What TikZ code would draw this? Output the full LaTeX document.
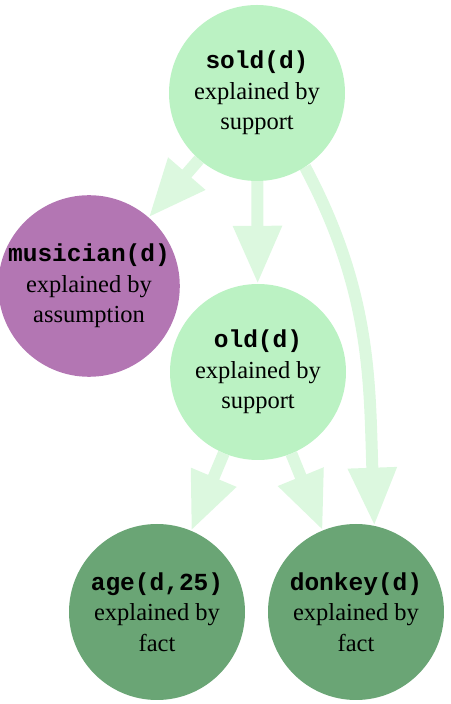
\documentclass[tikz,border=0pt]{standalone}
\usepackage{fontspec}
\setmainfont{Liberation Serif}
\setmonofont{Liberation Mono}
\usetikzlibrary{arrows.meta,backgrounds}
\definecolor{supportgreen}{HTML}{BBF2C3}
\definecolor{assumpurple}{HTML}{B376B3}
\definecolor{factgreen}{HTML}{6AA575}
\definecolor{arrowgreen}{HTML}{DCF8DF}
\tikzset{
  expl/.style={circle, minimum size=176pt, inner sep=0pt, align=center,
    font=\fontsize{24.5}{30.5}\selectfont, text=black},
  support/.style={expl, fill=supportgreen},
  assume/.style={expl, fill=assumpurple},
  fact/.style={expl, fill=factgreen},
  arr/.style={draw=arrowgreen, line width=12pt,
    -{Triangle[width=46pt,length=58pt,fill=arrowgreen]}}
}
\begin{document}
\begin{tikzpicture}[x=1pt,y=1pt]
\useasboundingbox (0,0) rectangle (450,704);
\node[support] (sold) at (257,611) {\textbf{\texttt{sold(d)}}\\explained by\\support};
\node[assume] (musician) at (89,418) {\textbf{\texttt{musician(d)}}\\explained by\\assumption};
\node[support] (old) at (258,332) {\textbf{\texttt{old(d)}}\\explained by\\support};
\node[fact] (age) at (157,92) {\textbf{\texttt{age(d,25)}}\\explained by\\fact};
\node[fact] (donkey) at (356,92) {\textbf{\texttt{donkey(d)}}\\explained by\\fact};
\begin{pgfonlayer}{background}
\draw[arr] (sold) -- (musician);
\draw[arr] (sold) -- (old);
\draw[arr] (sold.-57) to[out=-62,in=92] (donkey.78);
\draw[arr] (old) -- (age);
\draw[arr] (old) -- (donkey);
\end{pgfonlayer}
\end{tikzpicture}
\end{document}
